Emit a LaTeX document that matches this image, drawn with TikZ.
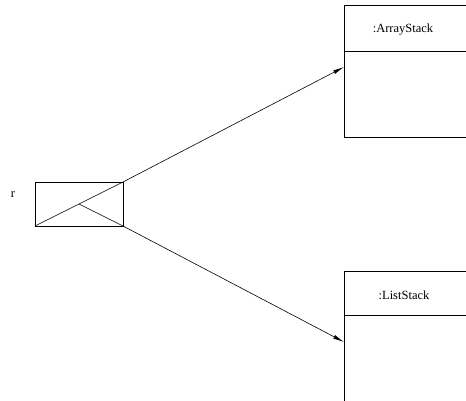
\documentclass[tikz,border=0pt]{standalone}
\usepackage{fontspec}
\setmainfont{Liberation Serif}
\usetikzlibrary{arrows.meta,calc}
\begin{document}
\begin{tikzpicture}[x=1pt,y=-1pt,
  every node/.style={inner sep=0pt, outer sep=0pt, font=\fontsize{12.5}{14}\selectfont},
  box/.style={draw, line width=0.6pt, anchor=north west, minimum width=126pt},
  ln/.style={line width=0.6pt},
  arr/.style={ln, -{Latex[length=11pt,width=4pt]}}]
\useasboundingbox (0,0) rectangle (466,400);
\clip (0,0) rectangle (466,400);
\node[draw, line width=0.6pt, anchor=north west, minimum width=88pt, minimum height=44pt] (ref) at (35,182) {};
\coordinate (mid) at ($(ref.south west)!0.5!(ref.north east)$);
\node (r) at (13,195) {r};
\node[box, minimum height=46pt] (ash) at (344,5) {};
\node (ast) at (403,30) {:ArrayStack};
\node[box, minimum height=86pt] (asb) at (ash.south west) {};
\node[box, minimum height=44pt] (lsh) at (344,271) {};
\node (lst) at (404,295) {:ListStack};
\node[box, minimum height=100pt] (lsb) at (lsh.south west) {};
\draw[ln] (ref.south west) -- (ref.north east);
\draw[arr] (ref.north east) -- ($(asb.north west)+(0,16)$);
\draw[ln] (mid) -- (ref.south east);
\draw[arr] (ref.south east) -- ($(lsb.north west)+(0,27)$);
\end{tikzpicture}
\end{document}
